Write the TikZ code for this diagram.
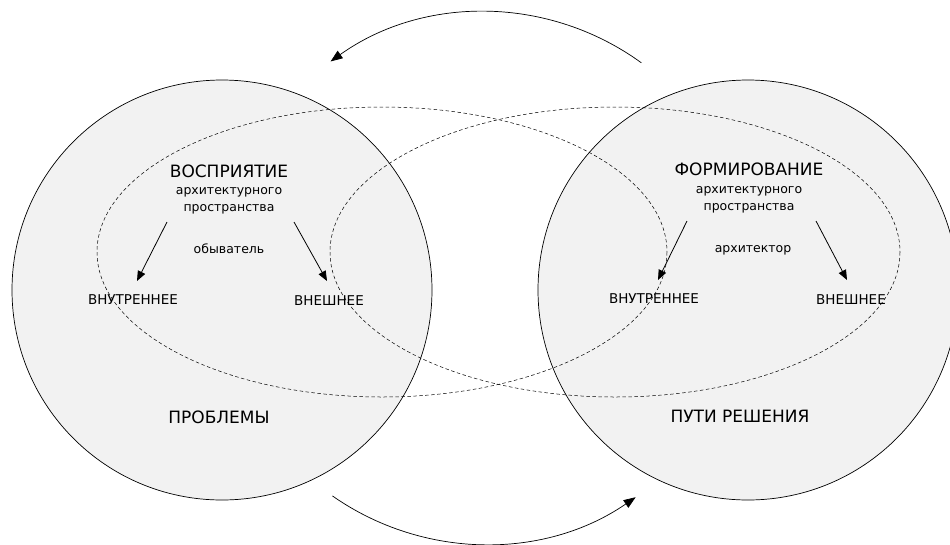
\documentclass[tikz,border=0pt]{standalone}
\usepackage{fontspec}
\setmainfont{DejaVu Sans}
\usetikzlibrary{arrows.meta,calc}

\definecolor{zoneFill}{RGB}{242,242,242}

\begin{document}
\begin{tikzpicture}[x=1pt, y=-1pt,
	zone/.style = {draw = black, line width = 0.7pt, fill = zoneFill},
	field/.style = {draw = black, line width = 0.5pt, dash pattern = on 3.5pt off 2.5pt},
	cycleArrow/.style = {line width = 0.7pt, -{Triangle[length = 12pt, width = 9pt]}},
	splitArrow/.style = {line width = 0.8pt, -{Triangle[length = 10pt, width = 8pt]}},
	headText/.style = {anchor = base, inner sep = 0pt, font = \fontsize{17}{20}\selectfont},
	subText/.style = {anchor = base, inner sep = 0pt, align = center, font = \fontsize{12.5}{17}\selectfont},
	roleText/.style = {anchor = base, inner sep = 0pt, font = \fontsize{12.5}{15}\selectfont},
	sideText/.style = {anchor = base, inner sep = 0pt, font = \fontsize{13.5}{16}\selectfont},
	footText/.style = {anchor = base, inner sep = 0pt, font = \fontsize{17}{20}\selectfont}
]

	\useasboundingbox (0, 0) rectangle (950, 544);

	% two grey circles: problems (left) and solutions (right)
	\def\zoneRadius{210}
	\draw[zone] (222, 290) circle (\zoneRadius);
	\draw[zone] (748, 290) circle (\zoneRadius);

	% dashed ellipses: perception and forming
	\def\fieldRx{285}
	\def\fieldRy{145}
	\draw[field] (382, 252) circle [x radius = \fieldRx, y radius = \fieldRy];
	\draw[field] (615, 252) circle [x radius = \fieldRx, y radius = \fieldRy];

	% big arrows going round between the circles
	\def\cycleRadius{266}
	\coordinate (cycle) at (485, 278);
	\coordinate (topFrom) at ($(cycle) + (-54:\cycleRadius)$);
	\coordinate (bottomFrom) at ($(cycle) + (125:\cycleRadius)$);
	\draw[cycleArrow] (topFrom) arc [start angle = -54, end angle = -125.5, radius = \cycleRadius];
	\draw[cycleArrow] (bottomFrom) arc [start angle = 125, end angle = 55.5, radius = \cycleRadius];

	% left circle
	\node[headText] (perception) at (229, 177) {ВОСПРИЯТИЕ};
	\node[subText] (perceptionSub) at (229, 211) {архитектурного\\пространства};
	\node[roleText] (citizen) at (229, 253) {обыватель};
	\node[sideText] (leftInner) at (133, 304) {ВНУТРЕННЕЕ};
	\node[sideText] (leftOuter) at (329, 305) {ВНЕШНЕЕ};
	\node[footText] (problems) at (219, 423) {ПРОБЛЕМЫ};

	\coordinate (leftInnerFrom) at (167, 222);
	\coordinate (leftInnerTo) at (137, 281);
	\coordinate (leftOuterFrom) at (294, 222);
	\coordinate (leftOuterTo) at (327, 281);
	\draw[splitArrow] (leftInnerFrom) -- (leftInnerTo);
	\draw[splitArrow] (leftOuterFrom) -- (leftOuterTo);

	% right circle
	\node[headText] (forming) at (749, 175) {ФОРМИРОВАНИЕ};
	\node[subText] (formingSub) at (749, 210) {архитектурного\\пространства};
	\node[roleText] (architect) at (753, 252) {архитектор};
	\node[sideText] (rightInner) at (654, 303) {ВНУТРЕННЕЕ};
	\node[sideText] (rightOuter) at (851, 304) {ВНЕШНЕЕ};
	\node[footText] (solutions) at (740, 422) {ПУТИ РЕШЕНИЯ};

	\coordinate (rightInnerFrom) at (687, 221);
	\coordinate (rightInnerTo) at (658, 280);
	\coordinate (rightOuterFrom) at (816, 221);
	\coordinate (rightOuterTo) at (847, 280);
	\draw[splitArrow] (rightInnerFrom) -- (rightInnerTo);
	\draw[splitArrow] (rightOuterFrom) -- (rightOuterTo);

\end{tikzpicture}
\end{document}
